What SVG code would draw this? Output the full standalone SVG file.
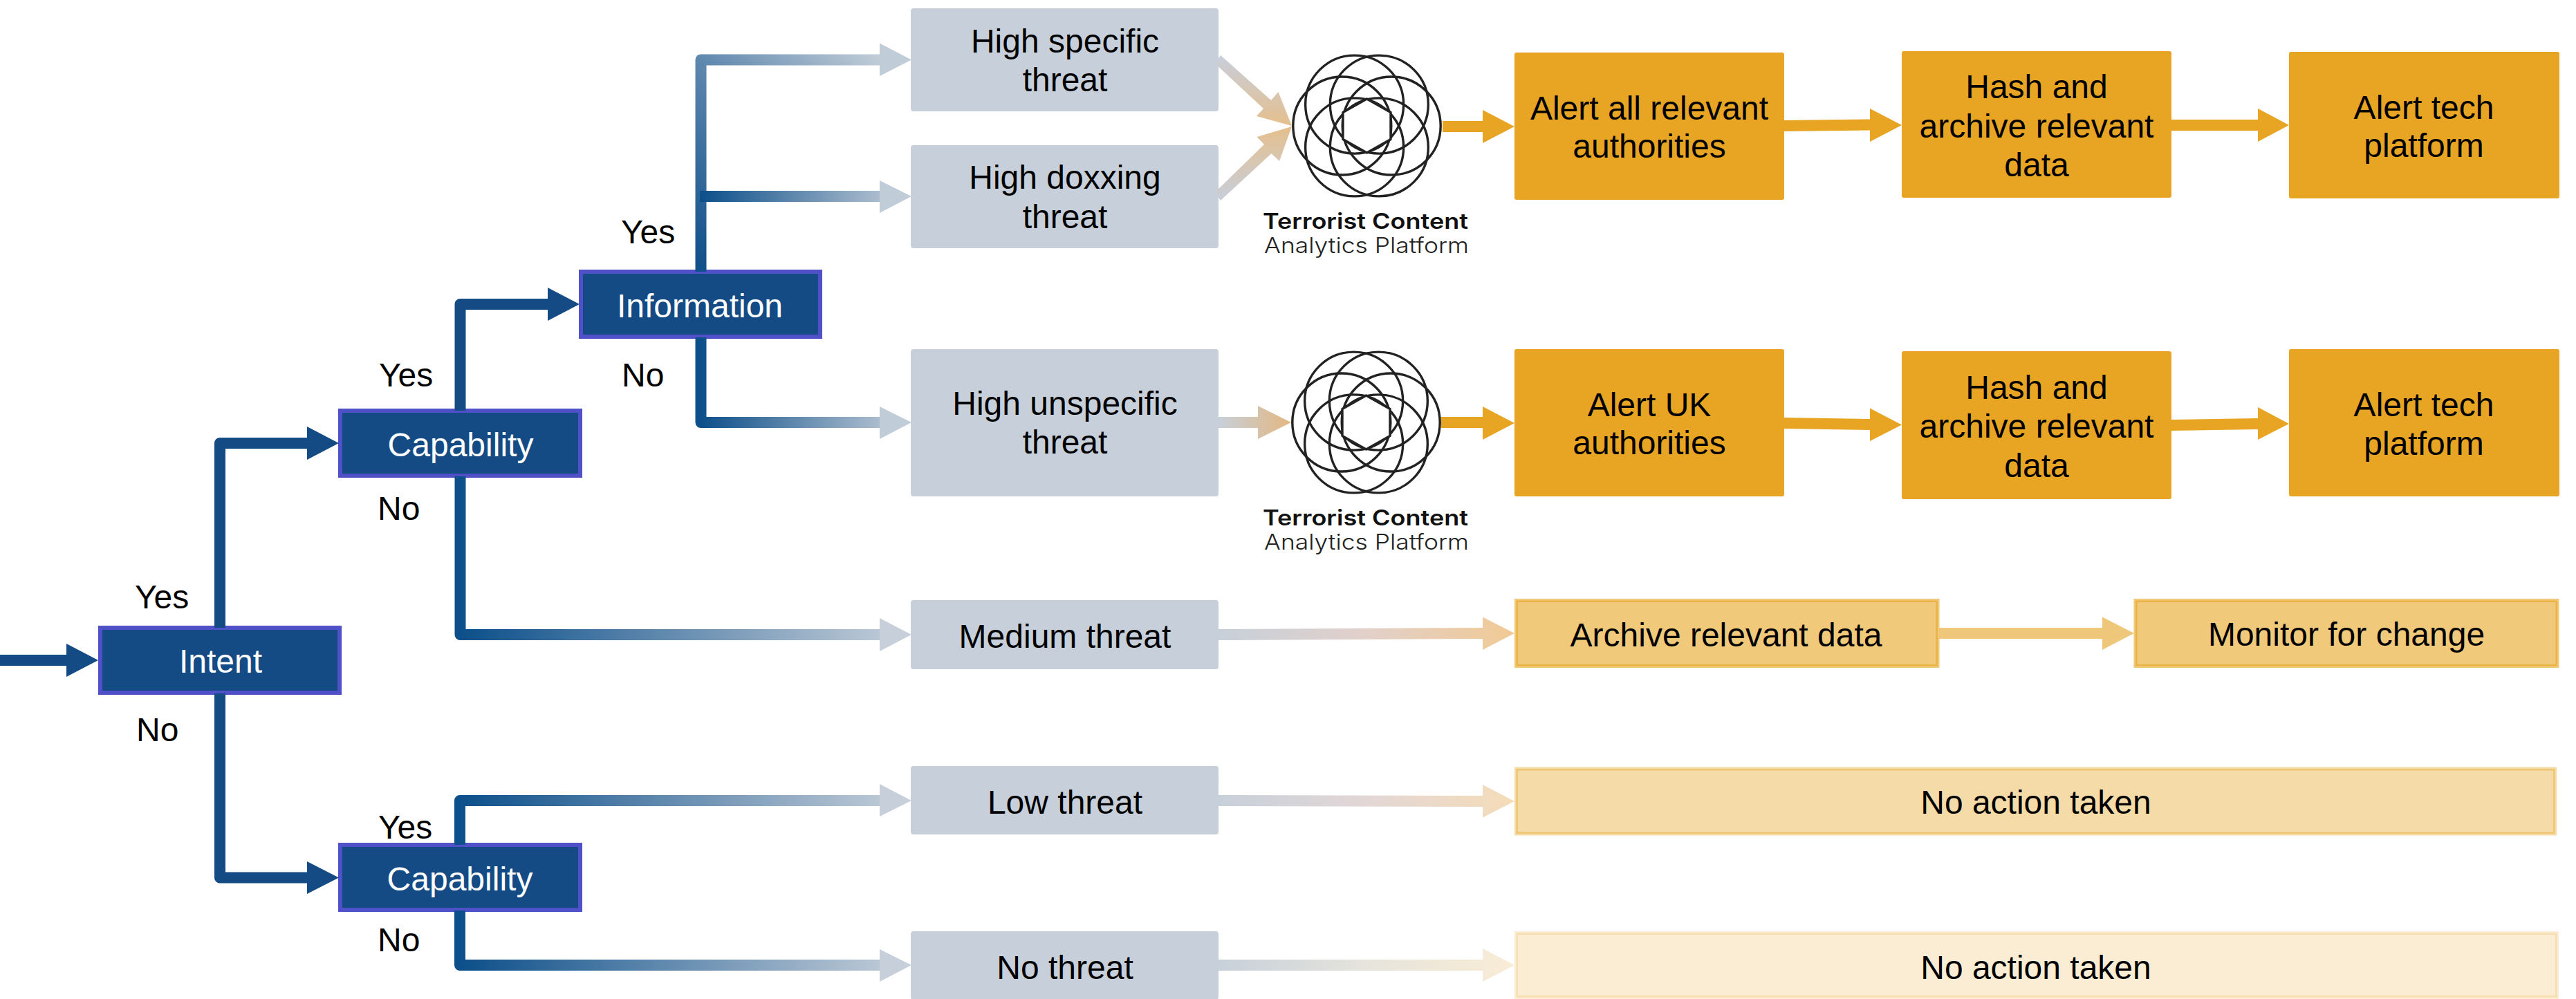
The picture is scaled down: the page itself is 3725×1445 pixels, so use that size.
<svg xmlns="http://www.w3.org/2000/svg" xmlns:xlink="http://www.w3.org/1999/xlink" width="3725" height="1445" viewBox="0 0 3725 1445">
<style>
text{font-family:"Liberation Sans",Arial,sans-serif;font-size:48px;fill:#000}
.m{text-anchor:middle}
.w{fill:#fff}
.navy{fill:#154b85;stroke:#5050c8;stroke-width:6}
.grey{fill:#c7d0da}
.or{fill:#e7a523}
.o6,.o4,.o2{fill:#e7a523;stroke:#e7a523;stroke-width:5}
.o6{fill-opacity:.6;stroke-opacity:.6}
.o4{fill-opacity:.4;stroke-opacity:.4}
.o2{fill-opacity:.2;stroke-opacity:.2}
.ln{fill:none;stroke-width:16;stroke-linejoin:round}
.ring{fill:none;stroke:#222;stroke-width:3.4}
.hex{fill:#fff;stroke:#222;stroke-width:3.4;stroke-linejoin:round}
.lb{font-family:Inter,"Open Sans",sans-serif;font-size:31px;font-weight:600;fill:#111}
.ll{font-family:Inter,"Open Sans",sans-serif;font-size:31px;font-weight:300;fill:#222}
</style>
<defs>
<linearGradient id="capG" gradientUnits="userSpaceOnUse" x1="665" y1="0" x2="1318" y2="0"><stop offset="0" stop-color="#0c4f8a"/><stop offset="1" stop-color="#c7d0da"/></linearGradient>
<linearGradient id="infG" gradientUnits="userSpaceOnUse" x1="1013" y1="0" x2="1318" y2="0"><stop offset="0" stop-color="#0c4f8a"/><stop offset="1" stop-color="#c7d0da"/></linearGradient>
<linearGradient id="infT" gradientUnits="userSpaceOnUse" x1="1013" y1="390" x2="1272" y2="86"><stop offset="0" stop-color="#0f4f8a"/><stop offset=".58" stop-color="#5f88ae"/><stop offset="1" stop-color="#c0ccd7"/></linearGradient>
<linearGradient id="g6" gradientUnits="userSpaceOnUse" x1="1762" y1="0" x2="2190" y2="0"><stop offset="0" stop-color="#c7d0da"/><stop offset=".5" stop-color="#e2d0ca"/><stop offset="1" stop-color="#f1ca94"/></linearGradient>
<linearGradient id="g4" gradientUnits="userSpaceOnUse" x1="1762" y1="0" x2="2190" y2="0"><stop offset="0" stop-color="#c7d0da"/><stop offset=".5" stop-color="#e3d7d6"/><stop offset="1" stop-color="#f5dcb8"/></linearGradient>
<linearGradient id="g2" gradientUnits="userSpaceOnUse" x1="1762" y1="0" x2="2190" y2="0"><stop offset="0" stop-color="#c7d0da"/><stop offset=".5" stop-color="#e6e4dc"/><stop offset="1" stop-color="#f9ecd6"/></linearGradient>
<linearGradient id="gl" gradientUnits="userSpaceOnUse" x1="1762" y1="0" x2="1868" y2="0"><stop offset="0" stop-color="#c7d0da"/><stop offset="1" stop-color="#e3b781"/></linearGradient>
<linearGradient id="gt" gradientUnits="userSpaceOnUse" x1="0" y1="85" x2="0" y2="182"><stop offset="0" stop-color="#c9ced8"/><stop offset="1" stop-color="#e5bf8d"/></linearGradient>
<linearGradient id="gb" gradientUnits="userSpaceOnUse" x1="0" y1="285" x2="0" y2="183"><stop offset="0" stop-color="#c9ced8"/><stop offset="1" stop-color="#e5bf8d"/></linearGradient>
<g id="rings">
<circle class="ring" cx="35.700" cy="0" r="71"/><circle class="ring" cx="-35.700" cy="0" r="71"/>
<circle class="ring" cx="17.850" cy="-30.900" r="71"/><circle class="ring" cx="-17.850" cy="-30.900" r="71"/>
<circle class="ring" cx="17.850" cy="30.900" r="71"/><circle class="ring" cx="-17.850" cy="30.900" r="71"/>
<polygon class="hex" points="0,-39 34.500,-19.500 34.500,19.500 0,39 -34.500,19.500 -34.500,-19.500"/>
</g>
</defs>
<rect width="3725" height="1445" fill="#fff"/>

<g id="n-intent"><rect class="navy" x="145" y="908" width="346" height="94"/><text class="m w" x="319" y="973">Intent</text></g>
<g id="n-capability1"><rect class="navy" x="492" y="594" width="347" height="94"/><text class="m w" x="666" y="659.5">Capability</text></g>
<g id="n-information"><rect class="navy" x="840" y="393" width="346" height="94"/><text class="m w" x="1012" y="458.5">Information</text></g>
<g id="n-capability2"><rect class="navy" x="492" y="1222" width="347" height="94"/><text class="m w" x="665" y="1288">Capability</text></g>

<g id="n-high-specific"><rect class="grey" x="1317" y="12" width="445" height="149" rx="4"/><text class="m" x="1540" y="76">High specific</text><text class="m" x="1540" y="132">threat</text></g>
<g id="n-high-doxxing"><rect class="grey" x="1317" y="210" width="445" height="149" rx="4"/><text class="m" x="1540" y="273">High doxxing</text><text class="m" x="1540" y="329.5">threat</text></g>
<g id="n-high-unspecific"><rect class="grey" x="1317" y="505" width="445" height="213" rx="4"/><text class="m" x="1540" y="600">High unspecific</text><text class="m" x="1540" y="656">threat</text></g>
<g id="n-medium"><rect class="grey" x="1317" y="868" width="445" height="100" rx="4"/><text class="m" x="1540" y="936.5">Medium threat</text></g>
<g id="n-low"><rect class="grey" x="1317" y="1108" width="445" height="99" rx="4"/><text class="m" x="1540" y="1176.5">Low threat</text></g>
<g id="n-none"><rect class="grey" x="1317" y="1347" width="445" height="99" rx="4"/><text class="m" x="1540" y="1416">No threat</text></g>

<g id="n-logo1"><use xlink:href="#rings" href="#rings" x="1976.500" y="182"/><text class="lb" x="1826" y="331" textLength="297" lengthAdjust="spacingAndGlyphs">Terrorist Content</text><text class="ll" x="1828" y="366" textLength="296" lengthAdjust="spacingAndGlyphs">Analytics Platform</text></g>
<g id="n-logo2"><use xlink:href="#rings" href="#rings" x="1975.500" y="611"/><text class="lb" x="1826" y="760" textLength="297" lengthAdjust="spacingAndGlyphs">Terrorist Content</text><text class="ll" x="1828" y="795" textLength="296" lengthAdjust="spacingAndGlyphs">Analytics Platform</text></g>

<g id="n-alert-all"><rect class="or" x="2190" y="76" width="390" height="213" rx="3"/><text class="m" x="2385" y="172.5">Alert all relevant</text><text class="m" x="2385" y="228">authorities</text></g>
<g id="n-hash1"><rect class="or" x="2750" y="74" width="390" height="212" rx="3"/><text class="m" x="2945" y="142">Hash and</text><text class="m" x="2945" y="198.5">archive relevant</text><text class="m" x="2945" y="255">data</text></g>
<g id="n-tech1"><rect class="or" x="3310" y="75" width="391" height="212" rx="3"/><text class="m" x="3505" y="172">Alert tech</text><text class="m" x="3505" y="226.5">platform</text></g>
<g id="n-alert-uk"><rect class="or" x="2190" y="505" width="390" height="213" rx="3"/><text class="m" x="2385" y="601.5">Alert UK</text><text class="m" x="2385" y="657">authorities</text></g>
<g id="n-hash2"><rect class="or" x="2750" y="508" width="390" height="214" rx="3"/><text class="m" x="2945" y="576.5">Hash and</text><text class="m" x="2945" y="633">archive relevant</text><text class="m" x="2945" y="690">data</text></g>
<g id="n-tech2"><rect class="or" x="3310" y="505" width="391" height="213" rx="3"/><text class="m" x="3505" y="601.5">Alert tech</text><text class="m" x="3505" y="657.5">platform</text></g>

<g id="n-archive"><rect class="o6" x="2192.5" y="868.5" width="609.5" height="95"/><text class="m" x="2496" y="934.5">Archive relevant data</text></g>
<g id="n-monitor"><rect class="o6" x="3088" y="868.5" width="610" height="95"/><text class="m" x="3393" y="934">Monitor for change</text></g>
<g id="n-noaction1"><rect class="o4" x="2192.5" y="1112" width="1502" height="94"/><text class="m" x="2944" y="1177">No action taken</text></g>
<g id="n-noaction2"><rect class="o2" x="2192.5" y="1349.5" width="1505" height="93"/><text class="m" x="2944" y="1415.5">No action taken</text></g>

<g id="labels">
<text x="195" y="879.5">Yes</text>
<text x="197" y="1072">No</text>
<text x="548" y="559">Yes</text>
<text x="546" y="752">No</text>
<text x="898" y="352">Yes</text>
<text x="899" y="559">No</text>
<text x="547" y="1213">Yes</text>
<text x="546" y="1376">No</text>
</g>

<g id="connectors">
<path class="ln" stroke="#154b85" d="M0 955H96"/><path fill="#154b85" d="M96 931L142 955L96 979Z"/>
<path class="ln" stroke="#154b85" d="M318 908V641H444"/><path fill="#154b85" d="M444 617L490 641L444 665Z"/>
<path class="ln" stroke="#154b85" d="M318 1003V1269.5H444"/><path fill="#154b85" d="M444 1246L490 1269.5L444 1293Z"/>
<path class="ln" stroke="#154b85" d="M665.5 594V440H792"/><path fill="#154b85" d="M792 416L838 440L792 464Z"/>

<path class="ln" stroke="url(#capG)" d="M665.5 689V918H1272"/><path fill="#c7d0da" d="M1272 894L1318 918L1272 942Z"/>
<path class="ln" stroke="url(#capG)" d="M665 1222V1158H1272"/><path fill="#c7d0da" d="M1272 1134L1318 1158L1272 1181Z"/>
<path class="ln" stroke="url(#capG)" d="M665 1317V1396H1272"/><path fill="#c7d0da" d="M1272 1373L1318 1396L1272 1420Z"/>

<path class="ln" stroke="url(#infT)" d="M1013.5 393V86.500H1272"/><path fill="#c0ccd7" d="M1272 62.500L1318 86.500L1272 110Z"/>
<path class="ln" stroke="url(#infG)" d="M1012 284H1272"/><path fill="#c0ccd7" d="M1272 261L1318 284L1272 308Z"/>
<path class="ln" stroke="url(#infG)" d="M1013.500 488V611H1272"/><path fill="#c0ccd7" d="M1272 588L1318 611L1272 635Z"/>

<path fill="url(#gt)" d="M1765 80L1838 145L1848.500 133L1868 182L1817 168L1827 157L1757 92Z"/>
<path fill="url(#gb)" d="M1757 278L1828 209L1817.500 198L1868 183L1850 233L1838.500 222L1765 290Z"/>
<path fill="url(#gl)" d="M1762 603H1819V587L1867 611L1819 635V619H1762Z"/>

<path fill="url(#g6)" d="M1762 910L2144 908V892.500L2190 916L2144 940V924L1762 926Z"/>
<path fill="url(#g4)" d="M1762 1150L2144 1151V1135L2190 1159L2144 1182.500V1167L1762 1166Z"/>
<path fill="url(#g2)" d="M1762 1388H2144V1372L2190 1396L2144 1420V1404H1762Z"/>
<path fill="#efc77a" d="M2804 908H3040V892.500L3086 916L3040 940V924H2804Z"/>

<g class="or">
<path d="M2086 175H2144V159L2190 183L2144 207V191H2086Z"/>
<path d="M2580 174L2704 172.500V157L2750 181L2704 205V188.500L2580 190Z"/>
<path d="M3140 173H3265V157L3310 181L3265 205V189H3140Z"/>
<path d="M2084 603H2144V588L2190 612L2144 636V619H2084Z"/>
<path d="M2580 604L2704 606V590.500L2750 614.500L2704 638V622L2580 620Z"/>
<path d="M3140 607L3265 605V589L3310 613L3265 636V621L3140 623Z"/>
</g>
</g>
</svg>
